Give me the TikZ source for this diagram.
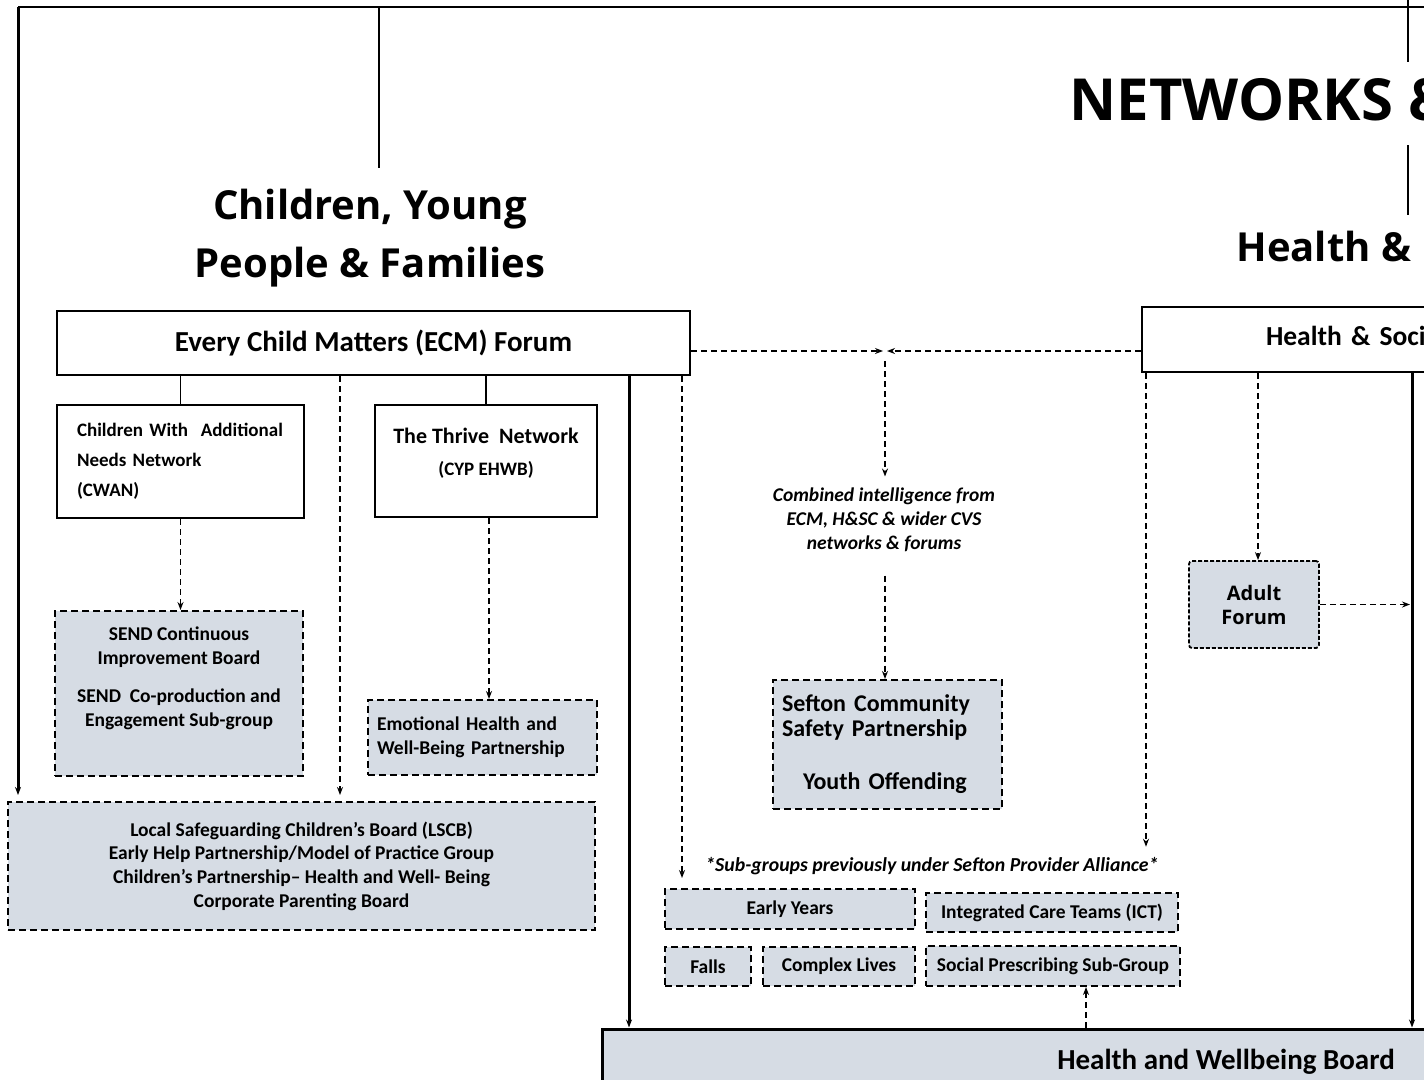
\documentclass[tikz,border=0pt]{standalone}
\usepackage{fontspec}
\setmainfont{Carlito}
\newfontfamily\headfont{Open Sans}
\usetikzlibrary{arrows.meta}
\definecolor{boxgrey}{HTML}{D6DCE4}
\tikzset{
  forum/.style={draw, line width=2pt, fill=white, font=\bfseries},
  group/.style={draw, line width=2pt, dash pattern=on 7pt off 4pt, fill=boxgrey, font=\bfseries\fontsize{19.5}{22}\selectfont},
  link/.style={->, line width=1.8pt, dash pattern=on 6pt off 4pt},
  feed/.style={->, line width=3pt},
  title/.style={align=center, font=\headfont\bfseries\fontsize{40}{58}\selectfont},
}
\begin{document}
\begin{tikzpicture}[x=1pt, y=-1pt, >={Stealth[length=8pt,width=6pt]}]
  % Page
  \useasboundingbox (0,0) rectangle (1424,1079);
  \clip (0,0) rectangle (1424,1079);

  % Frame lines
  \coordinate (frameL) at (18,7);
  \coordinate (frameR) at (1600,7);
  \coordinate (cypTop) at (379,7);
  \coordinate (cypEnd) at (379,168);
  \coordinate (netTop) at (1408,0);
  \coordinate (netEnd) at (1408,62);
  \coordinate (hscTop) at (1408,145);
  \coordinate (hscEnd) at (1408,215);
  \draw [line width=1.4pt] (frameL) -- (frameR);
  \draw [line width=1.2pt] (cypTop) -- (cypEnd);
  \draw [line width=1.2pt] (netTop) -- (netEnd);
  \draw [line width=1.2pt] (hscTop) -- (hscEnd);

  % Titles
  \node [title, font=\headfont\bfseries\fontsize{58}{70}\selectfont, anchor=west] (networks) at (1066,100) {NETWORKS \&};
  \node [title] (cyptitle) at (370,238) {Children, Young\\People \& Families};
  \node [title, anchor=west] (hsctitle) at (1233,246) {Health \&};

  % Forums
  \node [forum, minimum width=633, minimum height=64, font=\bfseries\fontsize{29}{34}\selectfont] (ecm) at (373.5,343) {Every Child Matters (ECM) Forum};
  \node [forum, anchor=north west, minimum height=65, inner xsep=124, text width=400, align=left, font=\bfseries\fontsize{27.5}{34}\selectfont] (hsc) at (1141,306) {Health \& Social\\[-26pt]\mbox{}};

  % CYP networks
  \node [forum, minimum width=247, minimum height=113, text width=207, align=left, font=\bfseries\fontsize{19}{30}\selectfont] (cwan) at (180.5,461.5) {Children With\ \ Additional\\Needs Network\\(CWAN)};
  \node [forum, minimum width=222, minimum height=112, align=center, font=\bfseries\fontsize{22}{26}\selectfont] (thrive) at (486,461) {The Thrive\ \ Network\\[6pt]{\fontsize{19}{22}\selectfont (CYP EHWB)}\\[-8pt]\mbox{}};

  % CYP groups
  \node [group, minimum width=248, minimum height=165, align=center, font=\bfseries\fontsize{19.5}{24}\selectfont] (send) at (179,693.5) {SEND Continuous\\Improvement Board\\[14pt]SEND\ \ Co-production and\\Engagement Sub-group\\[10pt]\mbox{}};
  \node [group, minimum width=229, minimum height=75, text width=211, align=left, font=\bfseries\fontsize{19.5}{24}\selectfont] (ehwb) at (482.5,737.5) {Emotional Health and\\Well-Being Partnership};
  \node [group, minimum width=587, minimum height=128, align=center, font=\bfseries\fontsize{19.5}{23.7}\selectfont] (lscb) at (301.5,866) {Local Safeguarding Children's Board (LSCB)\\Early Help Partnership/Model of Practice Group\\Children’s Partnership– Health and Well- Being\\Corporate Parenting Board};

  % Shared intelligence
  \node [align=center, font=\bfseries\itshape\fontsize{19.5}{24}\selectfont] (intel) at (884,520) {Combined intelligence from\\ECM, H\&SC \& wider CVS\\networks \& forums};
  \node [group, minimum width=229, minimum height=129, text width=211, align=left, font=\bfseries\fontsize{24}{25}\selectfont] (sefton) at (887.5,744.5) {Sefton Community\\Safety Partnership\\[28pt]\hspace*{21pt}Youth Offending};
  \node [group, rounded corners=3pt, dash pattern=on 4pt off 2pt, line width=1.8pt, minimum width=130, minimum height=87, align=center, font=\headfont\bfseries\fontsize{20}{24}\selectfont] (adult) at (1254,604.5) {Adult\\Forum};

  % Provider alliance sub-groups
  \node [font=\bfseries\itshape\fontsize{19.8}{22}\selectfont] (alliance) at (932,866) {*Sub-groups previously under Sefton Provider Alliance*};
  \node [group, minimum width=250, minimum height=40] (early) at (790,909) {Early Years};
  \node [group, minimum width=252, minimum height=39] (ict) at (1052,912.5) {Integrated Care Teams (ICT)};
  \node [group, minimum width=86, minimum height=39] (falls) at (708,966.5) {Falls};
  \node [group, minimum width=152, minimum height=39] (complex) at (839,966.5) {Complex Lives};
  \node [group, minimum width=254, minimum height=40] (social) at (1053,966) {Social Prescribing Sub-Group};

  % Board
  \node [forum, fill=boxgrey, line width=3pt, minimum width=1248, minimum height=66, font=\bfseries\fontsize{29}{34}\selectfont] (hwb) at (1226,1062) {Health and Wellbeing Board};

  % Connectors
  \draw [line width=1.2pt] (cwan.north) -- (cwan.north |- ecm.south);
  \draw [line width=1.2pt] (thrive.north) -- (thrive.north |- ecm.south);
  \draw [feed, shorten >=6pt] (frameL) -- (frameL |- lscb.north);
  \draw [link, shorten >=6pt] ([xshift=-33.5pt]ecm.south) -- ([xshift=-33.5pt]ecm.south |- lscb.north);
  \draw [feed] ([xshift=255.5pt]ecm.south) -- ([xshift=255.5pt]ecm.south |- hwb.north);
  \draw [link, shorten >=10pt] ([xshift=308.5pt]ecm.south) -- ([xshift=308.5pt]ecm.south |- early.north);
  \draw [link] (cwan.south) -- (cwan.south |- send.north);
  \draw [link] ([xshift=3pt]thrive.south) -- ([xshift=3pt]thrive.south |- ehwb.north);

  \coordinate (meet) at (885,351);
  \draw [link] (ecm.east |- meet) -- ([xshift=-2pt]meet);
  \draw [link] (hsc.west |- meet) -- ([xshift=2pt]meet);
  \draw [link, shorten <=10pt, shorten >=8pt] (meet) -- (meet |- intel.north);
  \draw [link, shorten <=20pt] (meet |- intel.south) -- (meet |- sefton.north);

  \coordinate (hscL) at ([xshift=5pt]hsc.south west);
  \coordinate (hscM) at ([xshift=117pt]hsc.south west);
  \coordinate (hscR) at ([xshift=271pt]hsc.south west);
  \draw [link, shorten >=7pt] (hscL) -- (hscL |- alliance.north);
  \draw [link] (hscM) -- (hscM |- adult.north);
  \draw [feed] (hscR) -- (hscR |- hwb.north);
  \draw [link, shorten >=2pt] (adult.east) -- (adult.east -| hscR);
  \draw [link] ([xshift=33pt]social.south |- hwb.north) -- ([xshift=33pt]social.south);
\end{tikzpicture}
\end{document}
